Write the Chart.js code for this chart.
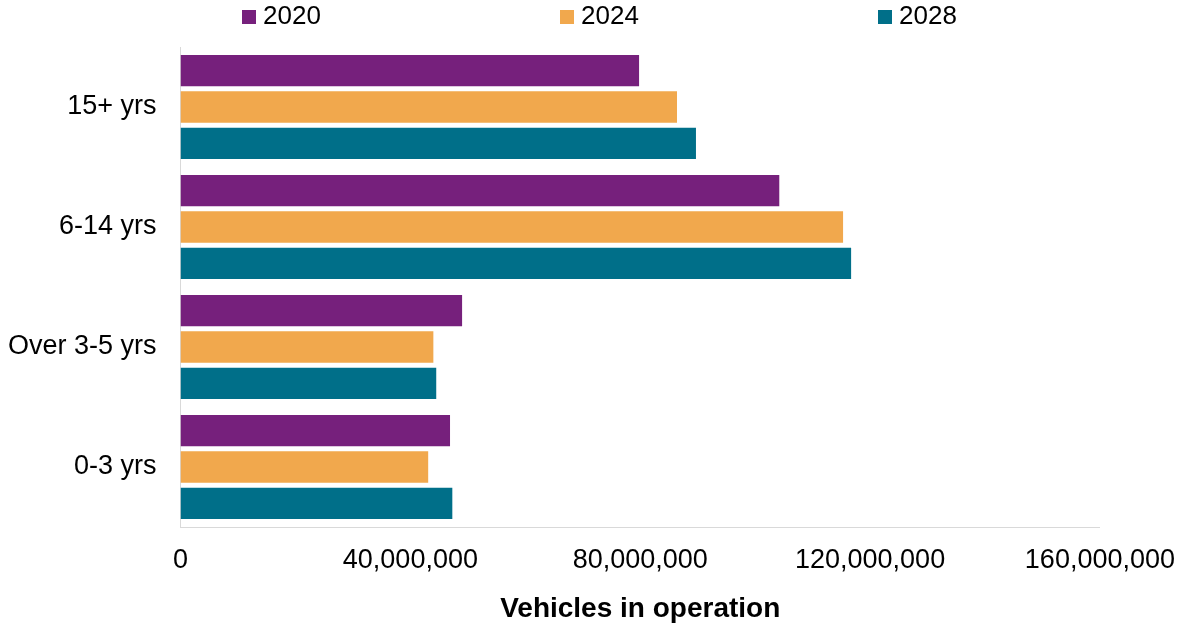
<!DOCTYPE html>
<html>
<head>
<meta charset="utf-8">
<title>Vehicles in operation by age</title>
<script src="https://cdn.jsdelivr.net/npm/chart.js@4.4.1/dist/chart.umd.min.js"></script>
<style>
    body { margin: 0; background: #fff; }
    #wrap { width: 1192px; height: 623px; }
</style>
</head>
<body>
<div id="wrap"><canvas id="vioChart"></canvas></div>
<script>
// data
const ageGroups = ['15+ yrs', '6-14 yrs', 'Over 3-5 yrs', '0-3 yrs'];
const years = ['2020', '2024', '2028'];
const vio2020 = [79800000, 104200000, 49000000, 46900000];
const vio2024 = [86400000, 115300000, 44000000, 43100000];
const vio2028 = [89700000, 116700000, 44500000, 47300000];
const xTicks = [0, 40000000, 80000000, 120000000, 160000000];

const colors = ['#76207C', '#F1A84D', '#006F89'];
const fontFamily = '"Liberation Sans", Arial, sans-serif';

// legend is spread across the top, wider than Chart.js's own legend allows
const spreadLegend = {
    id: 'spreadLegend',
    afterDraw(chart) {
        const ctx = chart.ctx;
        const startX = 242;
        const step = 318;
        ctx.save();
        ctx.font = '26px ' + fontFamily;
        ctx.textBaseline = 'middle';
        ctx.textAlign = 'left';
        chart.data.datasets.forEach((ds, i) => {
            const x = startX + i * step;
            ctx.fillStyle = ds.backgroundColor;
            ctx.fillRect(x, 10, 14, 14);
            ctx.fillStyle = '#000';
            ctx.fillText(ds.label, x + 21, 17);
        });
        ctx.restore();
    }
};

document.addEventListener('DOMContentLoaded', () => {
    const ctx = document.getElementById('vioChart').getContext('2d');
    const series = [vio2020, vio2024, vio2028];

    new Chart(ctx, {
        type: 'bar',
        data: {
            labels: ageGroups,
            datasets: years.map((y, i) => ({
                label: y,
                data: series[i],
                backgroundColor: colors[i],
                borderWidth: 0,
                categoryPercentage: 0.91,
                barPercentage: 0.86
            }))
        },
        options: {
            indexAxis: 'y',
            responsive: true,
            maintainAspectRatio: false,
            animation: false,
            layout: {
                padding: { top: 47, left: 8, right: 89, bottom: 0 }
            },
            plugins: {
                legend: { display: false },
                tooltip: { enabled: false }
            },
            scales: {
                x: {
                    min: 0,
                    max: 160000000,
                    afterBuildTicks: (axis) => {
                        axis.ticks = xTicks.map(v => ({ value: v }));
                    },
                    grid: { display: false, drawTicks: false },
                    border: { display: true, color: '#d9d9d9', width: 1 },
                    ticks: {
                        padding: 17,
                        color: '#000',
                        maxRotation: 0,
                        font: { family: fontFamily, size: 27 },
                        callback: (v) => Number(v).toLocaleString('en-US')
                    },
                    title: {
                        display: true,
                        text: 'Vehicles in operation',
                        color: '#000',
                        font: { family: fontFamily, size: 28, weight: 'bold', lineHeight: 1 },
                        padding: { top: 1.6, bottom: 0 }
                    }
                },
                y: {
                    grid: { display: false, drawTicks: false },
                    border: { display: true, color: '#d9d9d9', width: 1 },
                    ticks: {
                        padding: 24,
                        color: '#000',
                        font: { family: fontFamily, size: 27 }
                    },
                    // tick padding gets counted twice in the width, take one back
                    afterFit: (axis) => {
                        axis.width -= 24;
                    }
                }
            }
        },
        plugins: [spreadLegend]
    });
});
</script>
</body>
</html>
